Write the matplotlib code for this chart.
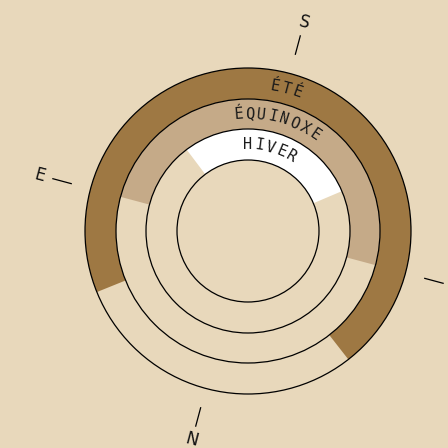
import matplotlib
matplotlib.use('Agg')
import matplotlib.pyplot as plt
import numpy as np
from matplotlib.patches import Circle, Wedge

# Sun path rings (outer to inner)
seasons = ['ÉTÉ', 'ÉQUINOXE', 'HIVER']
half_spans = [127, 90, 52]          # degrees each side of south
ring_outer = [163, 132, 102]
ring_inner = [132, 102, 71]
ring_colors = ['#9e7843', '#c5aa88', '#ffffff']

# Compass
directions = ['S', 'E', 'N', 'O']
dir_angles = [75, 165, 255, 345]    # diagram is turned 15 deg clockwise
south = 75

BG = '#e8d8bb'

fig = plt.figure(figsize=(4.48, 4.48), dpi=100)
fig.patch.set_facecolor(BG)
ax = fig.add_axes([0, 0, 1, 1])
ax.set_facecolor(BG)
ax.set_xlim(-248, 200)
ax.set_ylim(-217, 231)
ax.set_aspect('equal')
ax.axis('off')

# filled arcs
for r_out, r_in, span, col in zip(ring_outer, ring_inner, half_spans, ring_colors):
    ax.add_patch(Wedge((0, 0), r_out, south - span, south + span,
                       width=r_out - r_in, facecolor=col, edgecolor='none'))

# ring outlines
for r in sorted(set(ring_outer + ring_inner)):
    ax.add_patch(Circle((0, 0), r, fill=False, edgecolor='black', lw=0.9))

# curved labels, one letter at a time
step_px = 11.5
for name, r_out, r_in in zip(seasons, ring_outer, ring_inner):
    r = (r_out + r_in) / 2
    step = np.degrees(step_px / r)
    n = len(name)
    for i, ch in enumerate(name):
        a = south + step * ((n - 1) / 2 - i)
        t = np.radians(a)
        ax.text(r * np.cos(t), r * np.sin(t), ch, rotation=a - 90,
                rotation_mode='anchor', ha='center', va='center',
                family='DejaVu Sans Mono', fontsize=11, color='#1a1a1a')

# compass ticks and letters
for lab, a in zip(directions, dir_angles):
    t = np.radians(a)
    ax.plot([183 * np.cos(t), 202 * np.cos(t)], [183 * np.sin(t), 202 * np.sin(t)],
            color='black', lw=0.9)
    ax.text(216 * np.cos(t), 216 * np.sin(t), lab, rotation=-15,
            ha='center', va='center', fontsize=12, color='#111111')

fig.savefig('out.png', dpi=100, facecolor=BG)
